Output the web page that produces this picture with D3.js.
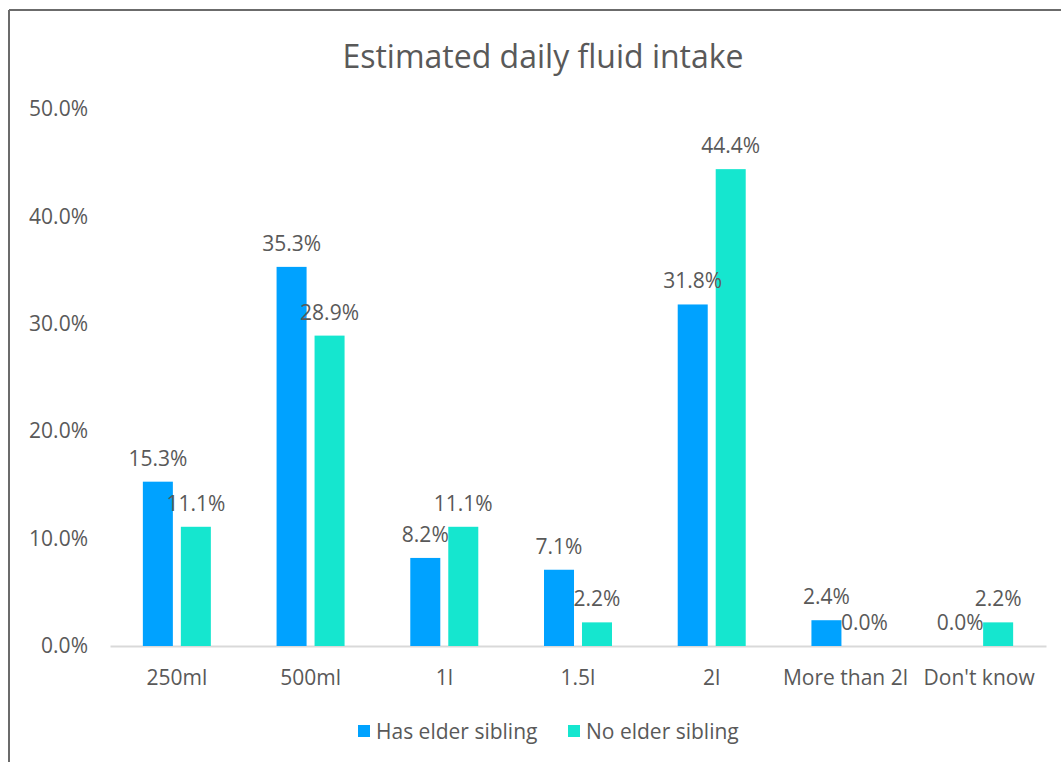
<!DOCTYPE html>
<html>
<head>
<meta charset="utf-8">
<script src="https://cdn.jsdelivr.net/npm/d3@7"></script>
<style>
  body { margin: 0; background: #fff; }
  svg { display: block; font-family: "Open Sans", sans-serif; }
</style>
</head>
<body>
<svg id="chart" width="1061" height="762"></svg>
<script>
// chart data
const categories = ["250ml", "500ml", "1l", "1.5l", "2l", "More than 2l", "Don't know"];
const seriesNames = ["Has elder sibling", "No elder sibling"];
const hasElder = [0.153, 0.353, 0.082, 0.071, 0.318, 0.024, 0.0];
const noElder = [0.111, 0.289, 0.111, 0.022, 0.444, 0.0, 0.022];
const yTicks = [0, 0.1, 0.2, 0.3, 0.4, 0.5];
const colors = ["#00a2ff", "#15e6cf"];

const svg = d3.select("#chart");
const textColor = "#595959";

// frame lines (top and left only, like the screenshot crop)
svg.append("line").attr("x1", 9).attr("x2", 1061).attr("y1", 10).attr("y2", 10)
  .attr("stroke", "#6b6b6b").attr("stroke-width", 2);
svg.append("line").attr("x1", 9).attr("x2", 9).attr("y1", 10).attr("y2", 762)
  .attr("stroke", "#6b6b6b").attr("stroke-width", 2);

// title
svg.append("text")
  .attr("x", 543).attr("y", 68)
  .attr("text-anchor", "middle")
  .attr("fill", textColor)
  .style("font-size", "32px")
  .text("Estimated daily fluid intake");

// scales
const x0 = d3.scaleBand().domain(categories).range([110, 1046]).padding(0);
const x1 = d3.scaleBand().domain(seriesNames).range([0, 68]).paddingInner(0.21);
const y = d3.scaleLinear().domain([0, 0.5]).range([646, 109]);
const fmt = d3.format(".1%");

// y axis labels (no axis line, no gridlines)
const yAxis = d3.axisLeft(y).tickValues(yTicks).tickFormat(fmt).tickSize(0).tickPadding(0);
const yg = svg.append("g").attr("transform", "translate(88,0)").call(yAxis);
yg.select(".domain").remove();
yg.selectAll("text").attr("fill", textColor).style("font-size", "21px")
  .style("font-family", "Open Sans, sans-serif");

// x axis
const xAxis = d3.axisBottom(x0).tickSize(0).tickPadding(24);
const xg = svg.append("g").attr("transform", "translate(0,646)").call(xAxis);
xg.select(".domain").attr("stroke", "#d9d9d9").attr("stroke-width", 2);
xg.selectAll("text").attr("fill", textColor).style("font-size", "21px")
  .style("font-family", "Open Sans, sans-serif");

// bars
const rows = categories.map((c, i) => ({
  cat: c,
  vals: [{ s: seriesNames[0], v: hasElder[i] }, { s: seriesNames[1], v: noElder[i] }]
}));

const groups = svg.append("g").selectAll("g")
  .data(rows)
  .join("g")
  .attr("transform", d => `translate(${x0(d.cat) + x0.bandwidth() / 2 - 34},0)`);

groups.selectAll("rect")
  .data(d => d.vals)
  .join("rect")
  .attr("x", d => x1(d.s))
  .attr("y", d => y(d.v))
  .attr("width", x1.bandwidth())
  .attr("height", d => y(0) - y(d.v))
  .attr("fill", (d, i) => colors[i]);

// data labels
groups.selectAll("text.lbl")
  .data(d => d.vals)
  .join("text")
  .attr("class", "lbl")
  .attr("x", d => x1(d.s) + x1.bandwidth() / 2)
  .attr("y", d => y(d.v) - 16)
  .attr("text-anchor", "middle")
  .attr("fill", textColor)
  .style("font-size", "21px")
  .text(d => fmt(d.v));

// legend
const legend = svg.append("g").attr("transform", "translate(358,731)");
const legendX = [0, 210];
seriesNames.forEach((name, i) => {
  const g = legend.append("g").attr("transform", `translate(${legendX[i]},0)`);
  g.append("rect").attr("x", 0).attr("y", -6).attr("width", 12).attr("height", 12)
    .attr("fill", colors[i]);
  g.append("text").attr("x", 18).attr("y", 7.5)
    .attr("fill", textColor).style("font-size", "21px").text(name);
});
</script>
</body>
</html>
